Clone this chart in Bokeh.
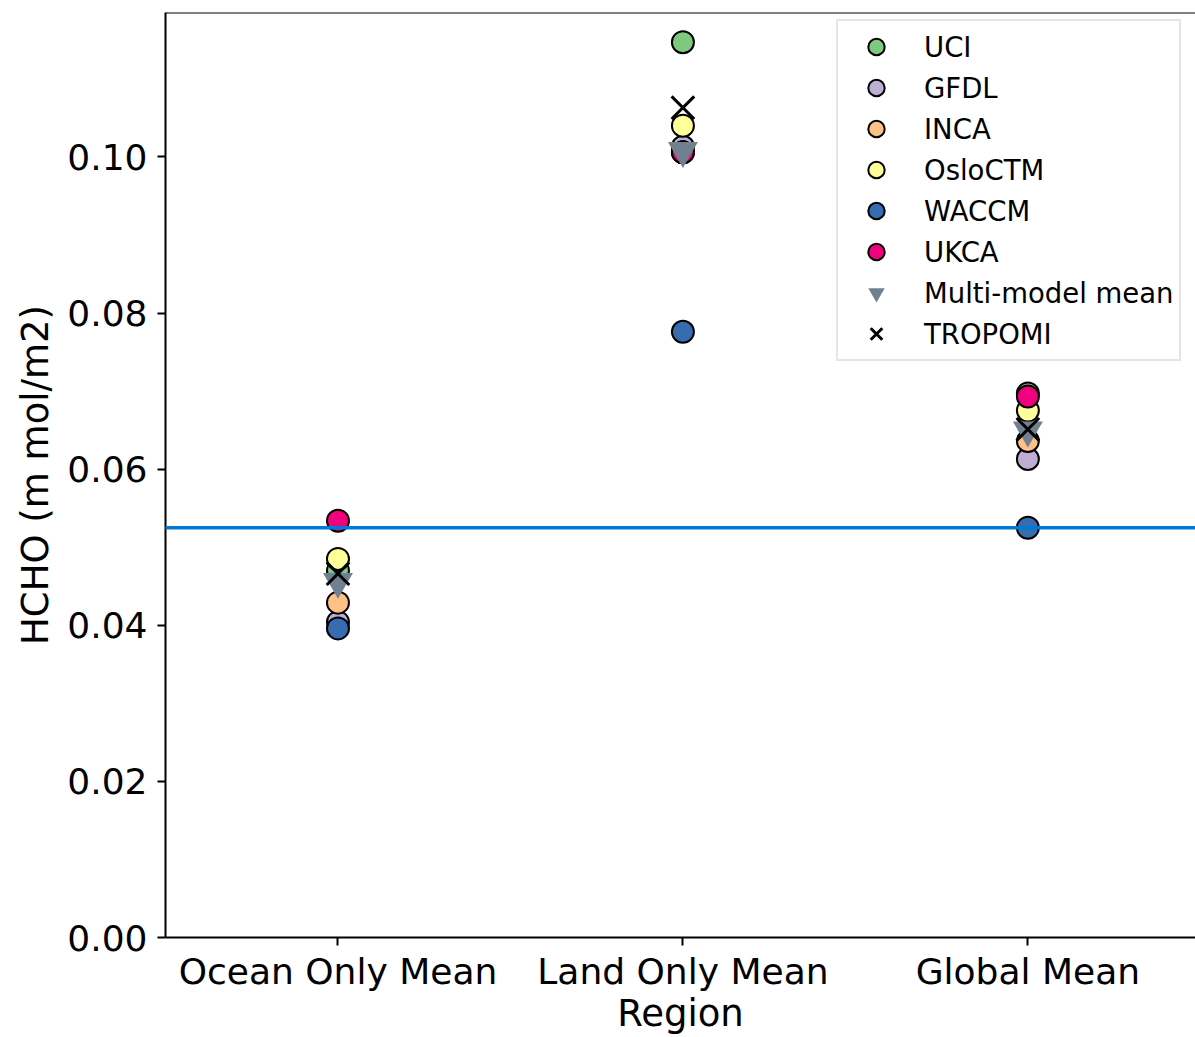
from bokeh.plotting import figure
from bokeh.models import Range1d, FixedTicker, Span, Arrow, Legend, LegendItem, ColumnDataSource
from bokeh.embed import file_html
from bokeh.resources import INLINE

regions = ["Ocean Only Mean", "Land Only Mean", "Global Mean"]
uci = [0.0470, 0.1147, 0.0697]
gfdl = [0.0404, 0.1013, 0.0613]
inca = [0.0429, 0.1006, 0.0636]
oslo = [0.0485, 0.1040, 0.0675]
waccm = [0.0396, 0.0776, 0.0525]
ukca = [0.0534, 0.1006, 0.0693]
mmm = [0.0456, 0.1008, 0.0650]
tropomi = [0.0466, 0.1063, 0.0651]
ref_line = 0.0525
y_ticks = [0.0, 0.02, 0.04, 0.06, 0.08, 0.10]

FONT = "DejaVu Sans"
xpos = list(range(len(regions)))
X0, X1 = -0.5, 2.486
Y0, Y1 = 0.0, 0.1185

p = figure(width=1195, height=1037, output_backend="svg", toolbar_location=None,
           x_range=Range1d(X0, X1), y_range=Range1d(Y0, Y1),
           min_border_left=165, min_border_top=12, min_border_right=0, min_border_bottom=100)
p.outline_line_color = None
p.xgrid.visible = False
p.ygrid.visible = False
p.background_fill_color = "white"
p.border_fill_color = "white"

models = [("UCI", uci, "#7fc97f"), ("GFDL", gfdl, "#beaed4"), ("INCA", inca, "#fdc086"),
          ("OsloCTM", oslo, "#ffff99"), ("WACCM", waccm, "#386cb0"), ("UKCA", ukca, "#f0027f")]
items = []
for name, vals, col in models:
    src = ColumnDataSource(dict(x=xpos, y=vals))
    r = p.scatter("x", "y", source=src, marker="circle", size=22, fill_color=col,
                  line_color="black", line_width=2)
    items.append(LegendItem(label=name, renderers=[r]))

src_m = ColumnDataSource(dict(x=xpos, y=mmm))
r_m = p.scatter("x", "y", source=src_m, marker="inverted_triangle", size=30,
                fill_color="#708090", line_color=None)
items.append(LegendItem(label="Multi-model mean", renderers=[r_m]))
src_t = ColumnDataSource(dict(x=xpos, y=tropomi))
r_t = p.scatter("x", "y", source=src_t, marker="x", size=32, line_color="black", line_width=3)
items.append(LegendItem(label="TROPOMI", renderers=[r_t]))

# top spine
p.add_layout(Span(location=Y1, dimension="width", line_color="black", line_width=2))

# blue reference line, extended across the left margin as in the reference
p.add_layout(Arrow(end=None, x_start=-1.0, y_start=ref_line, x_end=X1 + 0.05, y_end=ref_line,
                   line_color="#0078d4", line_width=3.5, level="overlay"))

# axes
for ax in (p.xaxis[0], p.yaxis[0]):
    ax.axis_line_color = "black"
    ax.axis_line_width = 2
    ax.major_tick_line_color = "black"
    ax.major_tick_line_width = 2
    ax.major_tick_out = 8
    ax.major_tick_in = 0
    ax.minor_tick_line_color = None
    ax.major_label_text_font = FONT
    ax.major_label_text_font_size = "36px"
    ax.major_label_text_color = "black"
    ax.axis_label_text_font = FONT
    ax.axis_label_text_font_size = "37px"
    ax.axis_label_text_font_style = "normal"
    ax.axis_label_text_color = "black"

p.xaxis.ticker = FixedTicker(ticks=xpos)
p.xaxis.major_label_overrides = {i: r for i, r in zip(xpos, regions)}
p.xaxis.axis_label = "Region"
p.xaxis.major_label_standoff = 5
p.xaxis.axis_label_standoff = -3

p.yaxis.ticker = FixedTicker(ticks=y_ticks)
p.yaxis.major_label_overrides = {t: f"{t:.2f}" for t in y_ticks}
p.yaxis.axis_label = "HCHO (m mol/m2)"
p.yaxis.major_label_standoff = 10
p.yaxis.axis_label_standoff = 7

legend = Legend(items=items, location=(671, 576), margin=0, padding=5,
                glyph_width=66, glyph_height=41, label_height=41, spacing=0,
                label_standoff=15, label_text_font=FONT, label_text_font_size="27.5px",
                label_text_color="black", border_line_color="#cccccc", border_line_width=2,
                background_fill_color="white", background_fill_alpha=0.9)
p.add_layout(legend, "center")

open("out.html", "w").write(file_html(p, INLINE))
